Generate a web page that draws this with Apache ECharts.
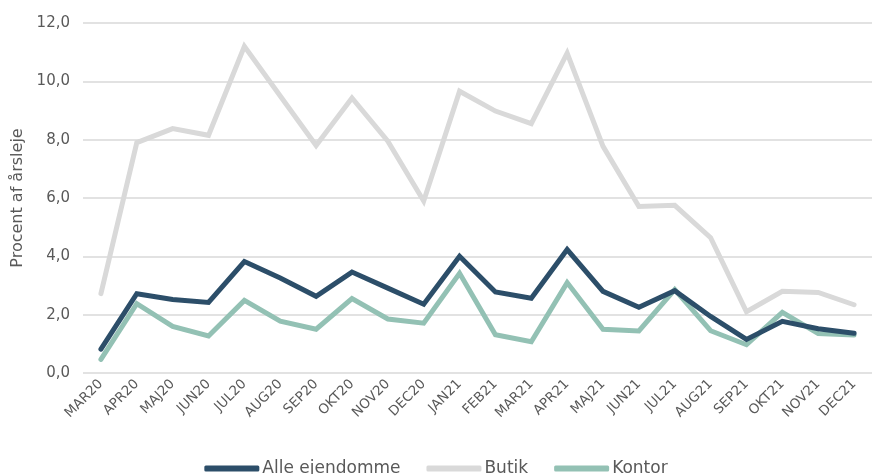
<!DOCTYPE html>
<html>
<head>
<meta charset="utf-8">
<script src="https://cdn.jsdelivr.net/npm/echarts@6/dist/echarts.min.js"></script>
<style>
html,body{margin:0;padding:0;background:#fff;}
#chart{width:872px;height:474px;}
</style>
</head>
<body>
<div id="chart"></div>
<script>
var categories = ['MAR20','APR20','MAJ20','JUN20','JUL20','AUG20','SEP20','OKT20','NOV20','DEC20','JAN21','FEB21','MAR21','APR21','MAJ21','JUN21','JUL21','AUG21','SEP21','OKT21','NOV21','DEC21'];
var alleEjendomme = [0.82,2.72,2.52,2.42,3.82,3.26,2.63,3.46,2.91,2.36,4.0,2.78,2.56,4.23,2.8,2.25,2.82,1.94,1.15,1.77,1.52,1.36];
var butik = [2.72,7.9,8.38,8.15,11.2,9.5,7.8,9.43,7.95,5.9,9.66,8.98,8.55,10.97,7.77,5.71,5.75,4.64,2.1,2.8,2.76,2.34];
var kontor = [0.47,2.38,1.6,1.27,2.49,1.78,1.5,2.55,1.85,1.71,3.42,1.31,1.07,3.1,1.5,1.44,2.86,1.45,0.97,2.08,1.35,1.3];
var yTicks = [0,2,4,6,8,10,12];

var FONT = 'DejaVu Sans';
var chart = echarts.init(document.getElementById('chart'));
function line(name, data, color, z) {
  return {
    name: name, type: 'line', data: data, symbol: 'none', z: z,
    lineStyle: {color: color, width: 5, join: 'miter', cap: 'round'},
    itemStyle: {color: color}
  };
}
chart.setOption({
  animation: false,
  grid: {left: 83, right: -12, top: 23, bottom: 101},
  legend: {
    top: 455, left: 'center',
    icon: 'roundRect', itemWidth: 55, itemHeight: 6, itemGap: 26,
    textStyle: {color: '#595959', fontSize: 17, fontFamily: FONT, padding: [0,0,0,-2]},
    data: ['Alle ejendomme','Butik','Kontor']
  },
  xAxis: {
    type: 'category', data: categories, boundaryGap: true,
    axisLine: {show: false}, axisTick: {show: false},
    axisLabel: {rotate: 45, color: '#595959', fontSize: 13.5, fontFamily: FONT, margin: 9, interval: 0}
  },
  yAxis: {
    type: 'value', min: yTicks[0], max: yTicks[yTicks.length-1], interval: 2,
    name: 'Procent af årsleje', nameLocation: 'middle', nameGap: 56,
    nameTextStyle: {color: '#595959', fontSize: 16, fontFamily: FONT},
    axisLine: {show: false}, axisTick: {show: false},
    axisLabel: {color: '#595959', fontSize: 15, fontFamily: FONT, margin: 13,
      formatter: function(v){ return v.toFixed(1).replace('.', ','); }},
    splitLine: {lineStyle: {color: '#D9D9D9', width: 1.5}}
  },
  series: [
    line('Alle ejendomme', alleEjendomme, '#2C4E69', 3),
    line('Butik', butik, '#D9D9D9', 1),
    line('Kontor', kontor, '#93C1B4', 2)
  ]
});
</script>
</body>
</html>
